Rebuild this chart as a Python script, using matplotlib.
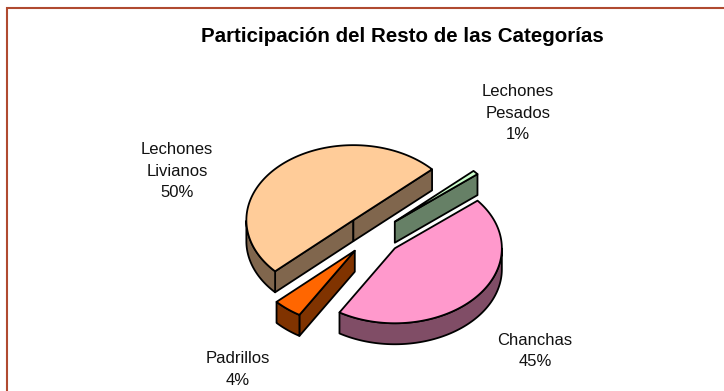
import numpy as np
import matplotlib
matplotlib.use("Agg")
import matplotlib.pyplot as plt
from matplotlib.patches import Polygon

plt.rcParams['font.family'] = ['Liberation Sans', 'DejaVu Sans']

categories = ['Lechones\nLivianos', 'Lechones\nPesados', 'Chanchas', 'Padrillos']
shares = [50.1, 0.9, 44.6, 4.4]
top_colors = ['#FFCC99', '#CCFFCC', '#FF99CC', '#FF6600']
side_colors = ['#80664D', '#668066', '#804D66', '#803300']
label_xy = [(177, 171), (518, 113), (535, 351), (238, 369.5)]

# pie geometry in picture pixels
cx, cy = 373, 235
a, b = 107, 75
depth = 21
explode = 0.27
start = 223

fig = plt.figure(figsize=(7.24, 3.91), dpi=100)
ax = fig.add_axes([0, 0, 1, 1])
ax.set_xlim(0, 724)
ax.set_ylim(391, 0)
ax.axis('off')


def pt(x0, y0, t):
    return x0 + a * np.cos(t), y0 - b * np.sin(t)


def side(pts, color):
    pts = np.array(pts)
    low = pts + [0, depth]
    ax.add_patch(Polygon(np.vstack([pts, low[::-1]]), closed=True, fc=color, ec='black', lw=1.3, joinstyle='round'))


t_hi = start
for name, val, top, dark, xy in zip(categories, shares, top_colors, side_colors, label_xy):
    t_lo = t_hi - val * 3.6
    mid = np.radians((t_hi + t_lo) / 2)
    x0 = cx + explode * a * np.cos(mid)
    y0 = cy - explode * b * np.sin(mid)
    hi, lo = np.radians(t_hi), np.radians(t_lo)
    ts = np.linspace(hi, lo, 200)

    # cut faces
    if np.cos(hi) < 0:
        side([(x0, y0), pt(x0, y0, hi)], dark)
    if np.cos(lo) > 0:
        side([(x0, y0), pt(x0, y0, lo)], dark)
    # outer rim, only the part facing the viewer
    rim = ts[np.sin(ts) < 0]
    if len(rim) > 1:
        side([pt(x0, y0, t) for t in rim], dark)
    # top face
    verts = [(x0, y0)] + [pt(x0, y0, t) for t in ts]
    ax.add_patch(Polygon(verts, closed=True, fc=top, ec='black', lw=1.3, joinstyle='round'))

    ax.text(xy[0], xy[1], f'{name}\n{val:.0f}%', ha='center', va='center', fontsize=12,
            linespacing=1.55, color='#111111')
    t_hi = t_lo

ax.text(402, 37, 'Participación del Resto de las Categorías', ha='center', va='center',
        fontsize=14.8, fontweight='bold', color='black')

# chart frame, cut by the picture edge
ax.plot([7, 7, 724], [391, 8, 8], color='#B04A30', lw=1.5, solid_joinstyle='miter')

fig.savefig('out.png', dpi=100)
